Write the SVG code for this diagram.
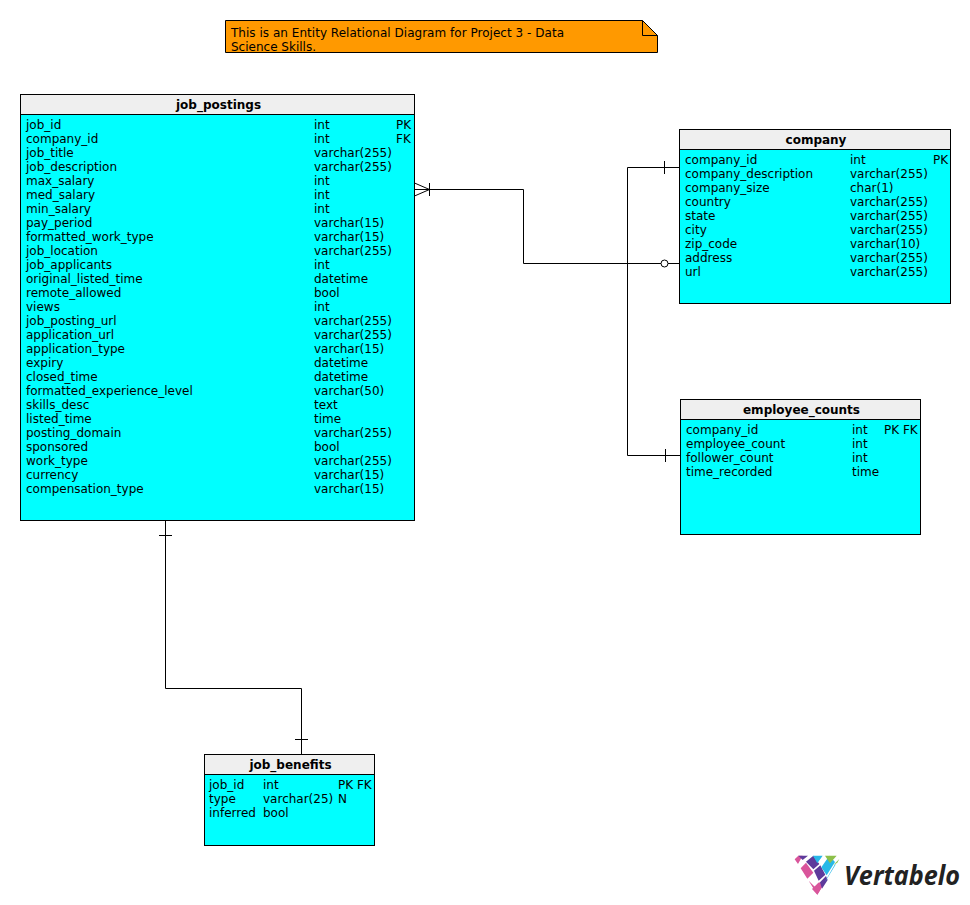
<svg xmlns="http://www.w3.org/2000/svg" width="970" height="905" viewBox="0 0 970 905">
<style>
text{font-family:"DejaVu Sans",sans-serif;font-size:12px;fill:#000}
.h{font-weight:bold;text-anchor:middle}
.b{fill:#0ff;stroke:#000;stroke-width:1}
.t{fill:#efefef;stroke:#000;stroke-width:1}
.c{fill:none;stroke:#000;stroke-width:1}
</style>
<rect width="970" height="905" fill="#fff"/>
<g id="note">
<path d="M225.500 20.500H642.500L657.500 35.500V52.500H225.500Z" fill="#ff9900" stroke="#000"/>
<path d="M642.500 20.500V35.500H657.500" fill="none" stroke="#000"/>
<text x="231" y="37" textLength="333">This is an Entity Relational Diagram for Project 3 - Data</text>
<text x="231" y="51">Science Skills.</text>
</g>
<g id="connectors">
<path class="c" d="M414.500 189.500H523.500V263.500H679.500"/>
<path class="c" d="M429.500 189.500L414.500 183M429.500 189.500L414.500 196M429.500 183V196"/>
<circle cx="664.500" cy="263.500" r="3.500" fill="#fff" stroke="#000"/>
<path class="c" d="M679.500 167.500H627.500V455.500H680.500"/>
<path class="c" d="M664.500 161V174M665.500 449V462"/>
<path class="c" d="M165.500 520.500V688.500H301.500V754.500"/>
<path class="c" d="M159 535.500H172M295 739.500H308"/>
</g>
<g id="job_postings">
<rect class="b" x="20.500" y="114.500" width="394" height="406"/>
<rect class="t" x="20.500" y="94.500" width="394" height="20"/>
<text class="h" x="218.500" y="109">job_postings</text>
<text x="26" y="129">job_id</text><text x="314" y="129">int</text><text x="396" y="129">PK</text>
<text x="26" y="143">company_id</text><text x="314" y="143">int</text><text x="396" y="143">FK</text>
<text x="26" y="157">job_title</text><text x="314" y="157">varchar(255)</text>
<text x="26" y="171">job_description</text><text x="314" y="171">varchar(255)</text>
<text x="26" y="185">max_salary</text><text x="314" y="185">int</text>
<text x="26" y="199">med_salary</text><text x="314" y="199">int</text>
<text x="26" y="213">min_salary</text><text x="314" y="213">int</text>
<text x="26" y="227">pay_period</text><text x="314" y="227">varchar(15)</text>
<text x="26" y="241">formatted_work_type</text><text x="314" y="241">varchar(15)</text>
<text x="26" y="255">job_location</text><text x="314" y="255">varchar(255)</text>
<text x="26" y="269">job_applicants</text><text x="314" y="269">int</text>
<text x="26" y="283">original_listed_time</text><text x="314" y="283">datetime</text>
<text x="26" y="297">remote_allowed</text><text x="314" y="297">bool</text>
<text x="26" y="311">views</text><text x="314" y="311">int</text>
<text x="26" y="325">job_posting_url</text><text x="314" y="325">varchar(255)</text>
<text x="26" y="339">application_url</text><text x="314" y="339">varchar(255)</text>
<text x="26" y="353">application_type</text><text x="314" y="353">varchar(15)</text>
<text x="26" y="367">expiry</text><text x="314" y="367">datetime</text>
<text x="26" y="381">closed_time</text><text x="314" y="381">datetime</text>
<text x="26" y="395">formatted_experience_level</text><text x="314" y="395">varchar(50)</text>
<text x="26" y="409">skills_desc</text><text x="314" y="409">text</text>
<text x="26" y="423">listed_time</text><text x="314" y="423">time</text>
<text x="26" y="437">posting_domain</text><text x="314" y="437">varchar(255)</text>
<text x="26" y="451">sponsored</text><text x="314" y="451">bool</text>
<text x="26" y="465">work_type</text><text x="314" y="465">varchar(255)</text>
<text x="26" y="479">currency</text><text x="314" y="479">varchar(15)</text>
<text x="26" y="493">compensation_type</text><text x="314" y="493">varchar(15)</text>
</g>
<g id="company">
<rect class="b" x="679.500" y="149.500" width="271" height="154"/>
<rect class="t" x="679.500" y="129.500" width="271" height="20"/>
<text class="h" x="816" y="144">company</text>
<text x="685" y="164">company_id</text><text x="850" y="164">int</text><text x="933" y="164">PK</text>
<text x="685" y="178">company_description</text><text x="850" y="178">varchar(255)</text>
<text x="685" y="192">company_size</text><text x="850" y="192">char(1)</text>
<text x="685" y="206">country</text><text x="850" y="206">varchar(255)</text>
<text x="685" y="220">state</text><text x="850" y="220">varchar(255)</text>
<text x="685" y="234">city</text><text x="850" y="234">varchar(255)</text>
<text x="685" y="248">zip_code</text><text x="850" y="248">varchar(10)</text>
<text x="685" y="262">address</text><text x="850" y="262">varchar(255)</text>
<text x="685" y="276">url</text><text x="850" y="276">varchar(255)</text>
</g>
<g id="employee_counts">
<rect class="b" x="680.500" y="419.500" width="240" height="115"/>
<rect class="t" x="680.500" y="399.500" width="240" height="20"/>
<text class="h" x="801.500" y="414">employee_counts</text>
<text x="686" y="434">company_id</text><text x="852" y="434">int</text><text x="884" y="434">PK FK</text>
<text x="686" y="448">employee_count</text><text x="852" y="448">int</text>
<text x="686" y="462">follower_count</text><text x="852" y="462">int</text>
<text x="686" y="476">time_recorded</text><text x="852" y="476">time</text>
</g>
<g id="job_benefits">
<rect class="b" x="204.500" y="774.500" width="170" height="71"/>
<rect class="t" x="204.500" y="754.500" width="170" height="20"/>
<text class="h" x="290.500" y="769">job_benefits</text>
<text x="209" y="789">job_id</text><text x="263" y="789">int</text><text x="338" y="789">PK FK</text>
<text x="209" y="803">type</text><text x="263" y="803">varchar(25)</text><text x="338" y="803">N</text>
<text x="209" y="817">inferred</text><text x="263" y="817">bool</text>
</g>
<g id="logo">
<g transform="translate(780 840) scale(.33333)">
<path fill="#d9559b" d="M44 58L55 47H68L54 72ZM62 85L78 68L100 98L82 116ZM86 122L112 148L124 128L137 124L112 164Z"/>
<path fill="#d9559b" d="M96 147L115 128L137 122L112 164Z"/>
<path fill="#5e3a9b" d="M55 47H84L68 60ZM78 65L100 47L118 72L100 88ZM102 92L121 76L136 104L116 122ZM120 127L138 108L143 120L126 146Z"/>
<path fill="#28b8e8" d="M99 47H128L112 70ZM124 82L148 47L165 66L140 106ZM134 126L164 74L168 72L140 118Z"/>
<path fill="#8dc04a" d="M135 47H170L150 70ZM160 75L178 57L172 68Z"/>
</g>
<text x="844" y="885" textLength="116" lengthAdjust="spacingAndGlyphs" style="font-family:'Open Sans',sans-serif;font-size:26.500px;font-weight:bold;font-style:italic;fill:#222">Vertabelo</text>
</g>
</svg>
